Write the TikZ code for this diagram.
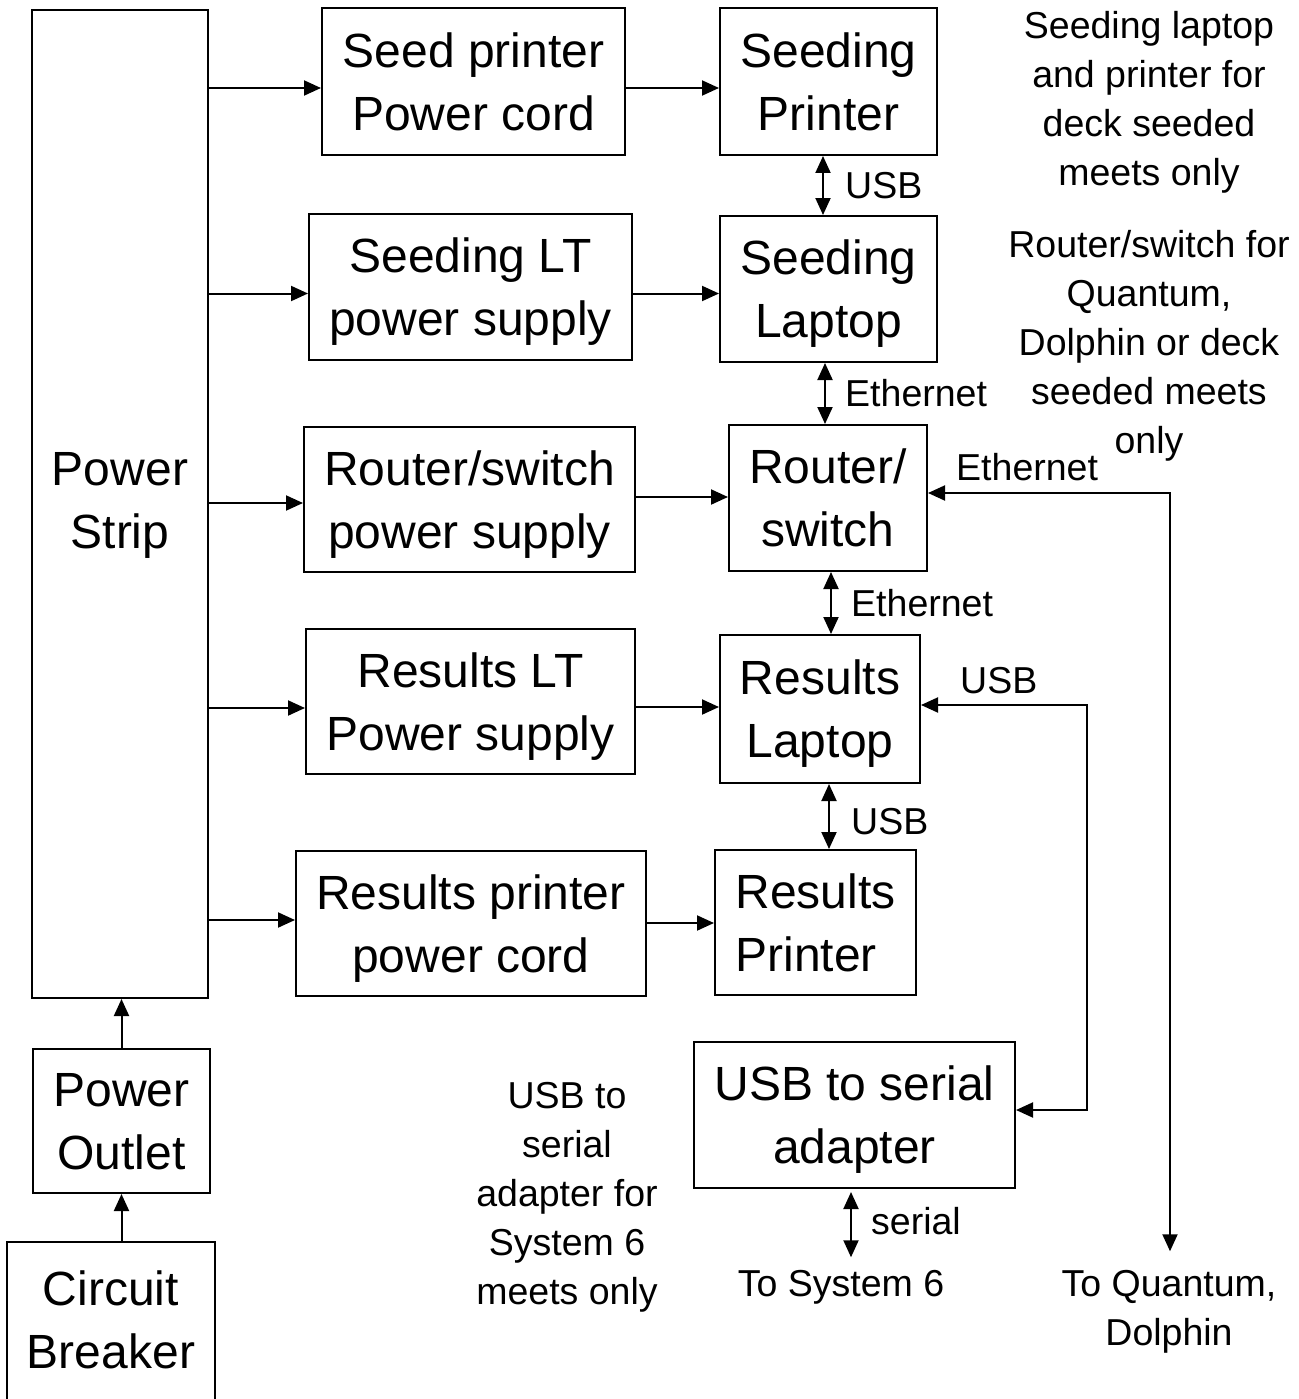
\documentclass[tikz,border=0pt]{standalone}
\usepackage{fontspec}
\setmainfont{Liberation Sans}
\usetikzlibrary{arrows.meta}
\newcommand\bigt[1]{\rule{0pt}{45pt}#1\rule[-10.6pt]{0pt}{10.6pt}}
\newcommand\smt[1]{\rule{0pt}{35pt}#1\rule[-8.1pt]{0pt}{8.1pt}}
\begin{document}
\begin{tikzpicture}[x=1pt,y=-1pt,
  box/.style={draw, line width=2pt, inner sep=0pt, align=center, font=\fontsize{48}{63}\selectfont},
  bigtext/.style={inner sep=0pt, align=center, font=\fontsize{48}{63}\selectfont},
  lbl/.style={inner sep=0pt, align=center, font=\fontsize{37.5}{49}\selectfont},
  arr/.style={line width=2pt, -{Triangle[length=17pt,width=15pt]}},
  darr/.style={line width=2pt, {Triangle[length=17pt,width=15pt]}-{Triangle[length=17pt,width=15pt]}}]
\useasboundingbox (0,0) rectangle (1298,1399);

% boxes
\node[box, minimum width=176pt, minimum height=988pt] (strip) at (120,504) {};
\node[bigtext] (stript) at (120,500) {\bigt{Power\\Strip}};
\node[box, minimum width=303pt, minimum height=147pt] (spc) at (473.5,81.5) {\bigt{Seed printer\\Power cord}};
\node[box, minimum width=217pt, minimum height=147pt] (sprn) at (828.5,81.5) {\bigt{Seeding\\Printer}};
\node[box, minimum width=323pt, minimum height=146pt] (sltps) at (470.5,287) {\bigt{Seeding LT\\power supply}};
\node[box, minimum width=217pt, minimum height=146pt] (slt) at (828.5,289) {\bigt{Seeding\\Laptop}};
\node[box, minimum width=331pt, minimum height=145pt] (rps) at (469.5,499.5) {\bigt{Router/switch\\power supply}};
\node[box, minimum width=198pt, minimum height=146pt] (rtr) at (828,498) {\bigt{Router/\\switch}};
\node[box, minimum width=329pt, minimum height=145pt] (rltps) at (470.5,701.5) {\bigt{Results LT\\Power supply}};
\node[box, minimum width=200pt, minimum height=148pt] (rlt) at (820,709) {\bigt{Results\\Laptop}};
\node[box, minimum width=350pt, minimum height=145pt] (rpc) at (471,923.5) {\bigt{Results printer\\power cord}};
\node[box, minimum width=201pt, minimum height=145pt, align=left] (rprn) at (815.5,922.5) {\bigt{Results\\Printer}};
\node[box, minimum width=321pt, minimum height=146pt] (usbs) at (854.5,1115) {\bigt{USB to serial\\adapter}};
\node[box, minimum width=177pt, minimum height=144pt] (outlet) at (121.5,1121) {\bigt{Power\\Outlet}};
\node[box, minimum width=208pt, minimum height=180pt] (cb) at (111,1332) {};
\node[bigtext] (cbt) at (111,1319.5) {\bigt{Circuit\\Breaker}};

% free texts
\node[lbl] (note1) at (1149,98.5) {\smt{Seeding laptop\\and printer for\\deck seeded\\meets only}};
\node[lbl] (note2) at (1149,342.5) {\smt{Router/switch for\\Quantum,\\Dolphin or deck\\seeded meets\\only}};
\node[lbl] (note3) at (567,1193) {\smt{USB to\\serial\\adapter for\\System 6\\meets only}};
\node[lbl] (sys6) at (841,1283) {\smt{To System 6}};
\node[lbl] (quant) at (1169,1307.5) {\smt{To Quantum,\\Dolphin}};

% connector labels
\node[lbl, anchor=west] (l1) at (845,185.5) {\smt{USB}};
\node[lbl, anchor=west] (l2) at (845,393.5) {\smt{Ethernet}};
\node[lbl, anchor=west] (l3) at (956,467) {\smt{Ethernet}};
\node[lbl, anchor=west] (l4) at (851,603) {\smt{Ethernet}};
\node[lbl, anchor=west] (l5) at (960,680) {\smt{USB}};
\node[lbl, anchor=west] (l6) at (851,821) {\smt{USB}};
\node[lbl, anchor=west] (l7) at (871,1221) {\smt{serial}};

% power arrows
\draw[arr] (strip.east |- 0,88) -- (spc.west |- 0,88);
\draw[arr] (spc.east |- 0,88) -- (sprn.west |- 0,88);
\draw[arr] (strip.east |- 0,293.5) -- (sltps.west |- 0,293.5);
\draw[arr] (sltps.east |- 0,293.5) -- (slt.west |- 0,293.5);
\draw[arr] (strip.east |- 0,503) -- (rps.west |- 0,503);
\draw[arr] (rps.east |- 0,497) -- (rtr.west |- 0,497);
\draw[arr] (strip.east |- 0,708) -- (rltps.west |- 0,708);
\draw[arr] (rltps.east |- 0,707) -- (rlt.west |- 0,707);
\draw[arr] (strip.east |- 0,920) -- (rpc.west |- 0,920);
\draw[arr] (rpc.east |- 0,923) -- (rprn.west |- 0,923);
\draw[arr] (outlet.north) -- (outlet.north |- strip.south);
\draw[arr] (outlet.south |- cb.north) -- (outlet.south);

% data links
\draw[darr] (823,0 |- sprn.south) -- (823,0 |- slt.north);
\draw[darr] (825,0 |- slt.south) -- (825,0 |- rtr.north);
\draw[darr] (831,0 |- rtr.south) -- (831,0 |- rlt.north);
\draw[darr] (829,0 |- rlt.south) -- (829,0 |- rprn.north);
\draw[darr, shorten <=3pt, shorten >=4pt] (851,0 |- usbs.south) -- (851,0 |- sys6.north);
\draw[darr, shorten >=10pt] (rtr.east |- 0,493) -- (1170,493) -- (1170,0 |- quant.north);
\draw[darr] (rlt.east |- 0,705) -- (1087,705) -- (1087,1110) -- (usbs.east |- 0,1110);
\end{tikzpicture}
\end{document}
